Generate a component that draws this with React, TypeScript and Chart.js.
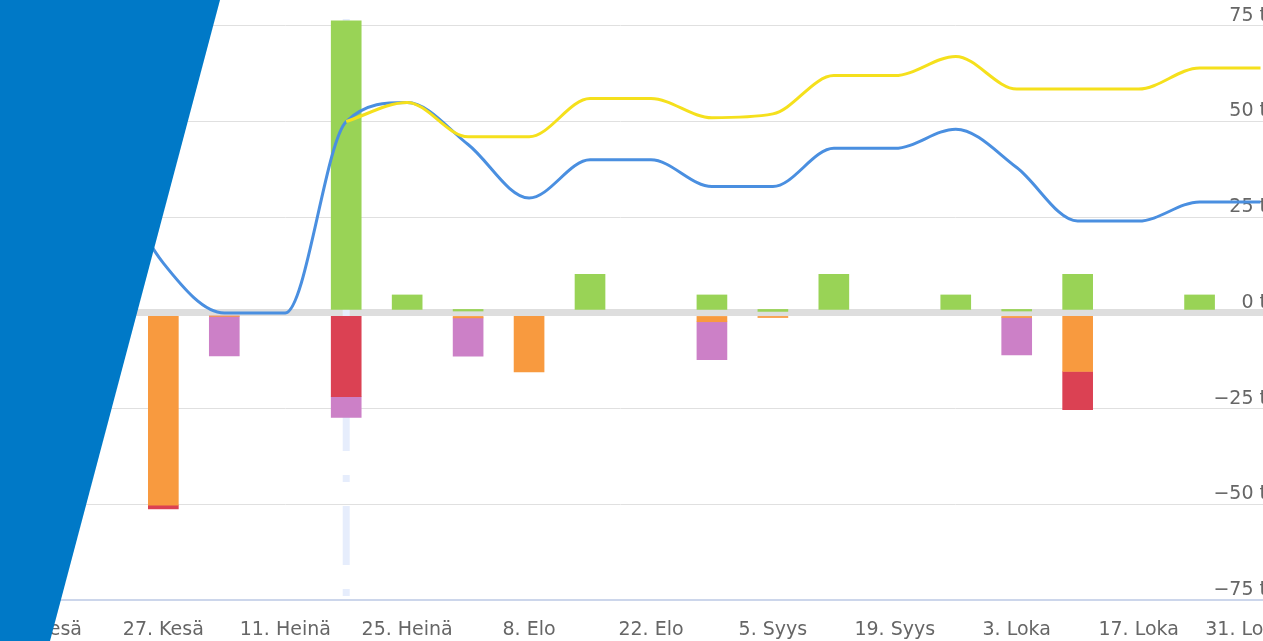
import React, { useEffect, useRef } from 'react';
import { Chart, registerables } from 'chart.js';

Chart.register(...registerables);

// Weekly categories (Finnish short month names)
const weeks = [
  '6. Kesä', '13. Kesä', '20. Kesä', '27. Kesä', '4. Heinä', '11. Heinä', '18. Heinä',
  '25. Heinä', '1. Elo', '8. Elo', '15. Elo', '22. Elo', '29. Elo', '5. Syys', '12. Syys',
  '19. Syys', '26. Syys', '3. Loka', '10. Loka', '17. Loka', '24. Loka', '31. Loka',
];

// Stacked bar series (tonnes)
const greenBars = [null, null, null, null, null, null, 76.3, 4.7, 0.5, null, 10.1, null, 4.7, 0.4, 10.1, null, 4.7, 0.5, 10.1, null, 4.7, null];
const orangeBars = [null, null, null, -50.2, -0.8, null, null, null, -1.3, -15.4, null, null, -2.3, -1.2, null, null, null, -1.2, -15.3, null, null, null];
const redBars = [null, null, null, -1.0, null, null, -21.9, null, null, null, null, null, null, null, null, null, null, null, -10.0, null, null, null];
const pinkBars = [null, null, null, null, -10.4, null, -5.4, null, -10.0, null, null, null, -9.9, null, null, null, null, -9.8, null, null, null, null];

// Line series (tonnes)
const blueLine = [null, null, 40, 13, 0, 0, 50, 55, 44, 30, 40, 40, 33, 33, 43, 43, 48, 38, 24, 24, 29, 29];
const yellowLine = [null, null, null, null, null, null, 50, 55, 46, 46, 56, 56, 51, 52, 62, 62, 67, 58.5, 58.5, 58.5, 64, 64];

// Axis ticks
const yTicks = [-75, -50, -25, 0, 25, 50, 75];
const yMin = -75;
const yMax = 78.1;
const plotLineWeek = '18. Heinä';

const FONT = 'DejaVu Sans';

const plotLinePlugin = {
  id: 'plotLine',
  beforeDatasetsDraw(chart: any) {
    const { ctx, chartArea, scales } = chart;
    const px = scales.x.getPixelForValue(weeks.indexOf(plotLineWeek));
    ctx.save();
    ctx.strokeStyle = '#e6edfc';
    ctx.lineWidth = 7;
    ctx.setLineDash([7, 24, 59, 24]);
    ctx.lineDashOffset = -5;
    ctx.beginPath();
    ctx.moveTo(px, chartArea.top);
    ctx.lineTo(px, chartArea.bottom);
    ctx.stroke();
    ctx.restore();
  },
};

export default function App() {
  const ref = useRef<HTMLCanvasElement>(null);

  useEffect(() => {
    const chart = new Chart(ref.current as HTMLCanvasElement, {
      type: 'bar',
      data: {
        labels: weeks,
        datasets: [
          {
            type: 'line',
            label: 'Keltainen',
            data: yellowLine as any,
            borderColor: '#f5e01c',
            borderWidth: 3,
            pointRadius: 0,
            cubicInterpolationMode: 'monotone',
            stack: 'yellow',
            order: 0,
          } as any,
          {
            type: 'line',
            label: 'Sininen',
            data: blueLine as any,
            borderColor: '#4a8fe0',
            borderWidth: 3,
            pointRadius: 0,
            cubicInterpolationMode: 'monotone',
            stack: 'blue',
            order: 0,
          } as any,
          { label: 'Vihreä', data: greenBars as any, backgroundColor: '#99d356', stack: 'bars', order: 1, barThickness: 30 },
          { label: 'Oranssi', data: orangeBars as any, backgroundColor: '#f89a3f', stack: 'bars', order: 1, barThickness: 30 },
          { label: 'Punainen', data: redBars as any, backgroundColor: '#db4153', stack: 'bars', order: 1, barThickness: 30 },
          { label: 'Violetti', data: pinkBars as any, backgroundColor: '#cc80c7', stack: 'bars', order: 1, barThickness: 30 },
        ],
      },
      options: {
        animation: false,
        responsive: false,
        maintainAspectRatio: false,
        layout: { padding: { top: 14, left: 0, right: 0, bottom: 0 } },
        plugins: {
          legend: { display: false },
          tooltip: { enabled: false },
        },
        scales: {
          x: {
            stacked: true,
            offset: true,
            grid: { display: false, drawTicks: false },
            border: { display: true, color: '#ccd6eb', width: 2 },
            ticks: {
              autoSkip: false,
              maxRotation: 0,
              minRotation: 0,
              padding: 19,
              color: '#666666',
              font: { family: FONT, size: 19 },
              callback: (_v: any, i: number) =>
                i % 2 === 1 ? (i === weeks.length - 1 ? weeks[i] + '\u00a0\u00a0\u00a0\u00a0\u00a0' : weeks[i]) : '',
            },
            afterFit: (s: any) => {
              s.height = 41;
              s.paddingLeft = 0;
              s.paddingRight = 0;
            },
          },
          y: {
            stacked: true,
            position: 'right',
            min: yMin,
            max: yMax,
            afterBuildTicks: (s: any) => {
              s.ticks = yTicks.map((v) => ({ value: v }));
            },
            afterFit: (s: any) => {
              s.width = 0;
              s.paddingTop = 0;
              s.paddingBottom = 0;
            },
            grid: {
              drawTicks: false,
              color: (c: any) => (c.tick && c.tick.value === 0 ? '#dedede' : '#e0e0e0'),
              lineWidth: (c: any) => (c.tick && c.tick.value === 0 ? 7 : 1),
            },
            border: { display: false },
            ticks: {
              mirror: true,
              padding: -24,
              labelOffset: -10,
              color: '#666666',
              font: { family: FONT, size: 19 },
              callback: (v: any) => (v < 0 ? '\u2212' + Math.abs(v) : String(v)) + ' t',
            },
          },
        },
      },
      plugins: [plotLinePlugin],
    });
    return () => chart.destroy();
  }, []);

  return (
    <div style={{ position: 'fixed', left: 0, top: 0, width: 1263, height: 641, overflow: 'hidden', background: '#ffffff' }}>
      <div style={{ position: 'absolute', left: -50, top: 0, width: 1341, height: 641 }}>
        <canvas ref={ref} width={1341} height={641} style={{ display: 'block', width: 1341, height: 641 }} />
      </div>
      <div
        style={{
          position: 'absolute',
          left: 0,
          top: 0,
          width: 1263,
          height: 641,
          background: '#0079c7',
          clipPath: 'polygon(0 0, 220px 0, 50px 641px, 0 641px)',
        }}
      />
    </div>
  );
}
